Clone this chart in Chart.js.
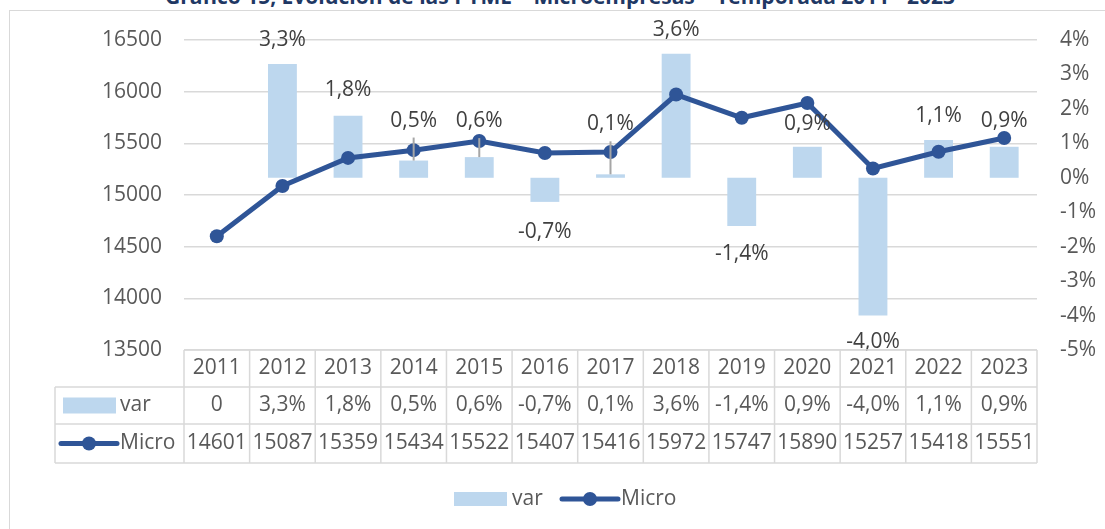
<!DOCTYPE html>
<html>
<head>
<meta charset="utf-8">
<script src="https://cdn.jsdelivr.net/npm/chart.js@4"></script>
<style>
  html, body { margin: 0; padding: 0; background: #fff; overflow: hidden; }
  #marco { position: absolute; left: 9px; top: 10px; width: 1120px; height: 540px; border: 1px solid #d9d9d9; }
  #titulo { position: absolute; left: 0; width: 1120px; top: -15px; text-align: center;
            font: bold 21px "Open Sans", sans-serif; line-height: 22px; color: #1f3864; white-space: nowrap; }
  #wrap { position: absolute; left: 0; top: 0; width: 1105px; height: 529px; }
</style>
</head>
<body>
<div id="marco"></div>
<div id="titulo">Gráfico 15, Evolución de las PYME – Microempresas – Temporada 2011 - 2023</div>
<div id="wrap"><canvas id="grafico"></canvas></div>
<script>
/* ───────── datos ───────── */
const anios  = ["2011","2012","2013","2014","2015","2016","2017","2018","2019","2020","2021","2022","2023"];
const varPct = [0, 3.3, 1.8, 0.5, 0.6, -0.7, 0.1, 3.6, -1.4, 0.9, -4.0, 1.1, 0.9];
const micro  = [14601, 15087, 15359, 15434, 15522, 15407, 15416, 15972, 15747, 15890, 15257, 15418, 15551];

// desplazamiento (px, hacia arriba) de cada etiqueta respecto al extremo de su barra
const etiquetaDesp = [0, 24, 26, 40, 36, -30, 50, 24, -28, 23, -26, 24, 26];

const GRIS   = "#595959";
const LINEA  = "#d9d9d9";
const AZUL   = "#2f5597";
const CELESTE = "#bdd7ee";
const FUENTE = '"Open Sans", sans-serif';

function fmtPct(v) {
  return v === 0 ? "0" : v.toFixed(1).replace(".", ",") + "%";
}

/* ───────── plugin: etiquetas, tabla y leyenda ───────── */
const tablaPlugin = {
  id: "tabla",
  afterDatasetsDraw(chart) {
    const ctx = chart.ctx;
    const barras = chart.getDatasetMeta(1).data;
    ctx.save();
    ctx.font = "21px " + FUENTE;
    ctx.textAlign = "center";
    ctx.textBaseline = "middle";
    barras.forEach((b, i) => {
      if (varPct[i] === 0) return;
      const ly = b.y - etiquetaDesp[i];
      if (Math.abs(etiquetaDesp[i]) > 30) {
        ctx.strokeStyle = "#a6a6a6";
        ctx.lineWidth = 2;
        ctx.beginPath();
        ctx.moveTo(b.x, ly + 17);
        ctx.lineTo(b.x, b.y);
        ctx.stroke();
      }
      ctx.fillStyle = "#404040";
      ctx.fillText(fmtPct(varPct[i]), b.x, ly);
    });
    ctx.restore();
  },
  afterDraw(chart) {
    const ctx = chart.ctx;
    const xs = chart.scales.x;
    const area = chart.chartArea;
    const izq = area.left, der = area.right;
    const y0 = area.bottom, y1 = y0 + 37, y2 = y1 + 37, y3 = y2 + 39;
    const leyIzq = 55;
    const ancho = (der - izq) / anios.length;

    ctx.save();
    ctx.strokeStyle = LINEA;
    ctx.lineWidth = 1.5;
    ctx.beginPath();
    // horizontales
    ctx.moveTo(izq, y0); ctx.lineTo(der, y0);
    ctx.moveTo(leyIzq, y1); ctx.lineTo(der, y1);
    ctx.moveTo(leyIzq, y2); ctx.lineTo(der, y2);
    ctx.moveTo(leyIzq, y3); ctx.lineTo(der, y3);
    // verticales
    ctx.moveTo(leyIzq, y1); ctx.lineTo(leyIzq, y3);
    for (let i = 0; i <= anios.length; i++) {
      const x = izq + i * ancho;
      ctx.moveTo(x, y0); ctx.lineTo(x, y3);
    }
    ctx.stroke();

    ctx.font = "21px " + FUENTE;
    ctx.fillStyle = GRIS;
    ctx.textAlign = "center";
    ctx.textBaseline = "middle";
    anios.forEach((a, i) => {
      const x = xs.getPixelForValue(i);
      ctx.fillText(a, x, (y0 + y1) / 2);
      ctx.fillText(fmtPct(varPct[i]), x, (y1 + y2) / 2);
      ctx.fillText(String(micro[i]), x, (y2 + y3) / 2);
    });

    // claves de la tabla
    const dsLinea = chart.data.datasets[0];
    const dsBarra = chart.data.datasets[1];
    ctx.textAlign = "left";
    ctx.fillStyle = dsBarra.backgroundColor;
    ctx.fillRect(63, (y1 + y2) / 2 - 8, 53, 16);
    ctx.fillStyle = GRIS;
    ctx.fillText(dsBarra.label, 120, (y1 + y2) / 2);
    dibujarClaveLinea(ctx, 61, 117, (y2 + y3) / 2, dsLinea.borderColor);
    ctx.fillStyle = GRIS;
    ctx.fillText(dsLinea.label, 120, (y2 + y3) / 2);

    // leyenda inferior
    const ly = 499;
    ctx.fillStyle = dsBarra.backgroundColor;
    ctx.fillRect(454, ly - 7, 53, 14);
    ctx.fillStyle = GRIS;
    ctx.fillText(dsBarra.label, 512, ly);
    dibujarClaveLinea(ctx, 562, 618, ly, dsLinea.borderColor);
    ctx.fillStyle = GRIS;
    ctx.fillText(dsLinea.label, 621, ly);
    ctx.restore();
  }
};

function dibujarClaveLinea(ctx, x0, x1, y, color) {
  ctx.save();
  ctx.strokeStyle = color;
  ctx.fillStyle = color;
  ctx.lineWidth = 5;
  ctx.lineCap = "round";
  ctx.beginPath();
  ctx.moveTo(x0, y); ctx.lineTo(x1, y);
  ctx.stroke();
  ctx.beginPath();
  ctx.arc((x0 + x1) / 2, y, 7, 0, Math.PI * 2);
  ctx.fill();
  ctx.restore();
}

/* ───────── gráfico ───────── */
const ctx = document.getElementById("grafico").getContext("2d");
new Chart(ctx, {
  type: "bar",
  data: {
    labels: anios,
    datasets: [
      {
        label: "Micro",
        type: "line",
        data: micro,
        yAxisID: "yMicro",
        borderColor: AZUL,
        backgroundColor: AZUL,
        borderWidth: 5,
        pointRadius: 7,
        pointBorderWidth: 0,
        pointBackgroundColor: AZUL,
        tension: 0,
        order: 0
      },
      {
        label: "var",
        data: varPct,
        yAxisID: "yVar",
        backgroundColor: CELESTE,
        barPercentage: 1,
        categoryPercentage: 0.44,
        order: 1
      }
    ]
  },
  options: {
    responsive: true,
    maintainAspectRatio: false,
    animation: false,
    layout: { padding: { left: 0, right: 0, top: 40, bottom: 179 } },
    plugins: {
      legend: { display: false },
      tooltip: { enabled: false },
      title: { display: false }
    },
    scales: {
      x: { display: false },
      yMicro: {
        position: "left",
        min: 13500, max: 16500,
        afterFit: s => { s.width = 184; },
        border: { display: false },
        grid: { color: LINEA, lineWidth: 1.5, drawTicks: false },
        ticks: { stepSize: 500, padding: 22, color: GRIS, font: { family: FUENTE, size: 21 },
                 callback: v => String(v) }
      },
      yVar: {
        position: "right",
        min: -5, max: 4,
        afterFit: s => { s.width = 68; },
        border: { display: false },
        grid: { display: false, drawTicks: false },
        ticks: { stepSize: 1, padding: 23, color: GRIS, font: { family: FUENTE, size: 21 },
                 callback: v => v + "%" }
      }
    }
  },
  plugins: [tablaPlugin]
});
</script>
</body>
</html>
